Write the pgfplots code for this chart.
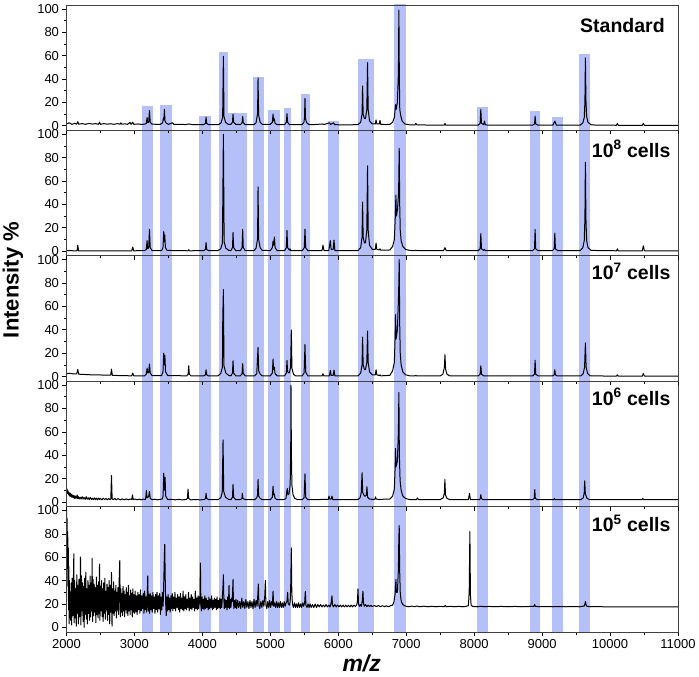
\documentclass[border=0pt]{standalone}
\usepackage{fontspec}
\setmainfont{Liberation Sans}
\usepackage{pgfplots}
\pgfplotsset{compat=1.18}
\definecolor{band}{RGB}{181,192,248}
\pgfplotsset{
 panel/.style={
   scale only axis, width=611.5pt, height=125.4pt,
   xmin=2000, xmax=11000, ymin=-4, ymax=103.3,
   xtick={2000,3000,...,11000}, minor x tick num=1,
   ytick={0,20,...,100}, minor y tick num=1,
   scaled x ticks=false, scaled y ticks=false,
   tick align=outside, tick pos=left,
   major tick length=4pt, minor tick length=2.5pt,
   every tick/.style={black, line width=0.6pt},
   axis line style={line width=0.8pt, black!75},
   /pgf/number format/assume math mode=true,
   /pgf/number format/1000 sep={},
   tick label style={font=\fontsize{13}{15}\selectfont},
   axis on top,
   anchor=north west,
 },
 bandst/.style={draw=none, fill=band, forget plot},
 spec/.style={black, line width=1pt, line join=round, forget plot},
}
\newcommand{\fullbands}{%
\addplot[bandst] coordinates {(3115,-10)(3115,110)(3279,110)(3279,-10)};
\addplot[bandst] coordinates {(3378,-10)(3378,110)(3548,110)(3548,-10)};
\addplot[bandst] coordinates {(3955,-10)(3955,110)(4125,110)(4125,-10)};
\addplot[bandst] coordinates {(4243,-10)(4243,110)(4657,110)(4657,-10)};
\addplot[bandst] coordinates {(4749,-10)(4749,110)(4913,110)(4913,-10)};
\addplot[bandst] coordinates {(4972,-10)(4972,110)(5142,110)(5142,-10)};
\addplot[bandst] coordinates {(5203,-10)(5203,110)(5311,110)(5311,-10)};
\addplot[bandst] coordinates {(5444,-10)(5444,110)(5588,110)(5588,-10)};
\addplot[bandst] coordinates {(5844,-10)(5844,110)(6008,110)(6008,-10)};
\addplot[bandst] coordinates {(6290,-10)(6290,110)(6524,110)(6524,-10)};
\addplot[bandst] coordinates {(6822,-10)(6822,110)(6991,110)(6991,-10)};
\addplot[bandst] coordinates {(8038,-10)(8038,110)(8207,110)(8207,-10)};
\addplot[bandst] coordinates {(8823,-10)(8823,110)(8972,110)(8972,-10)};
\addplot[bandst] coordinates {(9145,-10)(9145,110)(9313,110)(9313,-10)};
\addplot[bandst] coordinates {(9544,-10)(9544,110)(9712,110)(9712,-10)};
}
\newcommand{\plabel}[3]{\node[anchor=base east, font=\bfseries\fontsize{19.5}{22}\selectfont] at (rel axis cs:#1,#2) {#3};}
\begin{document}
\begin{tikzpicture}
\useasboundingbox (-66.5pt,5pt) rectangle (632.5pt,-672pt);
% ---------- panel 5 : 10^5 cells
\begin{axis}[panel, at={(0pt,-501.6pt)}]
\fullbands
\addplot[spec] coordinates {
(2000,95)(2003,100)(2006,70)(2010,93)(2014,50)(2018,82)(2022,35)(2026,68)(2030,15)(2034,52)(2038,3)(2042,40)(2046,8)
(2052,30)(2060,6)(2068,38)(2076,2)(2084,42)(2092,10)(2100,35)(2108,63)(2112,4)(2120,40)(2128,8)(2136,33)(2144,1)(2152,45)
(2160,12)(2168,36)(2176,3)(2184,41)(2192,9)(2200,30)(2206,60)(2212,2)(2220,44)(2228,14)(2236,38)(2244,5)(2252,35)(2260,0)
(2268,42)(2276,11)(2284,47)(2292,7)(2300,33)(2308,3)(2316,40)(2324,12)(2332,36)(2340,6)(2348,44)(2356,9)(2364,38)(2372,14)
(2377,59)(2384,5)(2392,41)(2400,10)(2408,37)(2416,13)(2424,34)(2432,4)(2440,43)(2448,11)(2456,36)(2464,8)(2472,39)(2480,12)
(2486,54)(2492,6)(2500,35)(2508,14)(2516,40)(2524,9)(2532,33)(2540,5)(2548,38)(2556,12)(2564,42)(2572,7)(2580,31)(2588,15)
(2596,37)(2604,6)(2612,34)(2620,11)(2628,40)(2636,3)(2644,36)(2652,13)(2662,47)(2670,1)(2678,33)(2686,12)(2694,39)(2702,10)
(2710,31)(2718,14)(2726,36)(2734,8)(2742,30)(2750,15)(2758,34)(2766,11)(2774,38)(2784,57)(2792,9)(2800,33)(2808,13)(2816,29)
(2824,10)(2832,35)(2840,14)(2848,31)(2856,9)(2864,28)(2872,15)(2880,34)(2888,12)(2896,30)(2904,10)(2912,36)(2920,14)(2928,27)
(2936,11)(2944,32)(2952,15)(2960,29)(2968,9)(2976,33)(2984,13)(2992,28)(3000,12)
(3010,31)(3020,13)(3030,27)(3040,11)(3050,30)(3060,15)(3070,28)(3080,12)(3090,32)(3100,14)(3110,27)(3120,16)(3130,29)(3140,12)
(3150,31)(3160,15)(3170,26)(3180,13)(3190,30)(3196,44)(3204,14)(3212,28)(3222,12)(3232,29)(3242,15)(3252,27)(3262,13)(3272,30)
(3282,16)(3292,26)(3302,12)(3312,28)(3322,15)(3332,30)(3342,13)(3352,27)(3362,16)(3372,29)(3382,11)(3392,26)(3402,15)(3412,30)
(3422,18)(3432,40)(3440,60)(3446,71)(3452,45)(3460,20)(3468,10)(3476,26)(3486,14)(3496,28)(3506,15)(3516,25)(3526,13)(3536,27)
(3546,16)(3556,29)(3566,14)(3576,26)(3586,16)(3596,30)(3606,14)(3616,25)(3626,17)(3636,28)(3646,15)(3656,26)(3666,13)(3676,29)
(3686,16)(3696,25)(3706,15)(3716,31)(3726,14)(3736,26)(3746,16)(3756,28)(3766,15)(3776,24)(3786,17)(3796,30)(3806,14)(3816,25)
(3826,16)(3836,28)(3846,15)(3856,26)(3866,17)(3876,24)(3886,14)(3896,31)(3906,16)(3916,25)(3926,15)(3936,27)(3946,16)(3956,26)
(3964,20)(3971,55)(3978,18)(3986,14)(3996,26)(4006,16)(4016,24)(4026,15)(4036,27)(4046,16)(4056,25)(4066,17)(4076,23)(4086,15)
(4096,26)(4106,16)(4116,24)(4126,17)(4136,27)(4146,15)(4156,23)(4166,16)(4176,25)(4186,17)(4196,24)(4206,15)(4216,26)(4226,16)
(4236,23)(4246,17)(4256,25)(4266,16)(4276,24)(4286,17)(4296,28)(4303,35)(4309,45)(4315,26)(4322,16)(4332,24)(4342,17)(4352,23)
(4362,15)(4372,26)(4382,17)(4392,36)(4400,16)(4410,24)(4420,17)(4430,25)(4440,22)(4446,33)(4451,41)(4456,24)(4464,16)(4474,23)
(4484,17)(4494,24)
(4505,16)(4520,23)(4535,17)(4550,22)(4565,16)(4580,25)(4595,17)(4610,22)(4625,16)(4640,24)(4655,17)(4670,22)(4685,16)(4700,23)
(4715,17)(4730,22)(4745,16)(4760,24)(4775,17)(4790,23)(4805,18)(4815,27)(4824,37)(4832,19)(4845,16)(4860,22)(4875,17)(4890,23)
(4905,18)(4918,27)(4927,40)(4935,19)(4948,16)(4962,22)(4976,17)(4990,23)(5004,17)(5018,22)(5030,19)(5040,31)(5050,18)(5064,21)
(5078,17)(5092,22)(5106,17)(5120,21)(5134,17)(5148,22)(5162,17)(5176,21)(5190,17)(5204,22)(5218,18)(5232,21)(5244,22)(5255,30)
(5264,20)(5280,19)(5292,22)(5300,35)(5309,68)(5316,30)(5325,20)(5340,17)(5355,21)(5370,17)(5385,20)(5400,17)(5415,21)(5430,17)
(5445,20)(5460,17)(5475,21)(5490,18)(5505,21)(5515,30.7)(5524,19)(5540,17)(5555,20)(5570,17)(5585,20)(5600,17)(5620,19.5)
(5640,17)(5660,20)(5680,17)(5700,19.5)(5720,17.5)(5740,19.5)(5760,17.5)(5780,19)(5800,17.5)(5820,19.5)(5840,17.5)(5860,19)
(5880,17.5)(5895,21)(5907,27)(5915,19)(5930,17.5)(5950,19.5)(5970,17.5)(5990,19)(6010,17.5)(6030,19)(6050,17.5)(6070,19)
(6090,17.5)(6110,19)(6130,17.5)(6150,18.8)(6170,17.5)(6190,19)(6210,17.5)(6230,19)(6250,17.8)(6270,19)(6282,22)(6290,33)
(6298,20)(6310,18)(6325,19.5)(6340,18)(6352,22)(6363,31)(6372,20)(6385,18)(6400,19.5)(6420,17.8)(6440,19)(6460,17.8)(6480,18.8)
(6500,17.8)(6530,18.6)(6560,17.8)(6590,18.6)(6620,17.7)(6650,18.5)(6680,17.7)(6710,18.4)(6740,17.7)(6770,18.5)(6800,19)
(6820,22)(6835,28)(6842,35)(6848,41)(6855,30)(6870,30)(6885,50)(6891,75)(6897,87)(6903,50)(6912,30)(6922,24)(6935,21)(6950,19.5)
(6975,18.5)(7000,18)(7040,17.6)(7080,18.2)(7120,17.6)(7160,18.2)(7200,17.6)(7260,18.1)(7320,17.6)(7380,18)(7440,17.6)(7500,18)
(7560,17.6)(7575,18.8)(7590,17.6)(7650,18)(7710,17.6)(7770,18)(7830,17.6)(7880,17.9)(7915,18.5)(7927,30)(7937,82)(7945,28)
(7955,19)(7980,17.8)(8040,17.6)(8100,18)(8160,17.6)(8220,17.9)(8300,17.6)(8400,17.9)(8500,17.6)(8600,17.9)(8700,17.6)(8800,17.8)
(8880,18)(8890,19.5)(8900,18)(8960,17.6)(9050,17.8)(9150,17.6)(9250,17.8)(9350,17.6)(9450,17.7)(9550,17.6)(9620,18.2)(9630,20)
(9637,22)(9645,19.5)(9660,18)(9700,17.6)(9800,17.7)(9900,17.6)(10100,17.6)(10300,17.6)(10500,17.6)(11000,17.6)
};
\plabel{0.9935}{0.80}{10\textsuperscript{5} cells}
\end{axis}
% ---------- panel 4 : 10^6 cells
\begin{axis}[panel, at={(0pt,-376.2pt)}, xticklabels={}]
\fullbands
\addplot[spec] coordinates {
(2000,9)(2008,11)(2016,7)(2024,9.5)(2032,6)(2040,8)(2048,5)(2056,7.5)(2064,4.5)(2072,6.5)(2080,4)(2090,6)(2100,3.5)(2110,5.5)
(2120,3)(2130,5)(2140,3)(2150,4.5)(2157,6)(2165,3)(2175,4.5)(2185,2.5)(2200,4)(2215,2.5)(2230,4.5)(2245,2.5)(2260,3.8)(2275,2.2)
(2290,4.5)(2305,2.3)(2320,3.5)(2335,2)(2350,3.8)(2365,2.2)(2380,3.2)(2395,2)(2410,3.5)(2425,2)(2440,3.2)(2455,1.8)(2470,3.3)
(2485,2)(2500,3)(2520,1.8)(2540,3.2)(2560,2)(2580,3)(2600,1.8)(2620,3)(2640,2)(2652,2.5)(2662,22.6)(2672,2.5)(2690,2)(2710,3)
(2730,1.8)(2760,2.8)(2790,1.8)(2820,2.6)(2850,1.8)(2880,2.6)(2910,1.8)(2940,2.5)(2960,2)(2971,6)(2982,2)(3010,2.5)(3040,1.8)
(3070,2.4)(3100,1.8)(3130,2.4)(3160,2)(3168,4)(3176,9.7)(3185,3.5)(3200,4)(3210,5)(3221,8.9)(3232,3)(3260,2)(3300,2.3)(3340,1.8)
(3380,2.2)(3410,2.5)(3422,5)(3431,24.6)(3440,10)(3451,21)(3460,5)(3490,2)(3550,2.2)(3600,1.8)(3650,2.2)(3700,1.8)(3760,2)
(3780,3)(3789,10.9)(3798,3)(3830,1.8)(3900,2)(3970,1.8)(4030,2)(4046,3)(4054,7.4)(4062,3)(4090,2)
(4230,2)(4270,3.5)(4292,8)(4304,53)(4314,9)(4340,4)(4390,2)(4420,2)(4443,4)(4451,15)(4460,4)(4490,2)
(4560,2)(4582,3)(4588,7.4)(4596,3)(4630,2)(4770,2)(4800,3.5)(4812,6)(4819,19.2)(4828,5)(4850,3)(4880,2)
(5000,2)(5030,4)(5040,13.5)(5048,6)(5058,7)(5070,3)(5100,2)
(5200,2)(5230,3)(5242,9)(5250,11.5)(5258,6)(5275,7)(5292,15)(5300,45)(5304,100)(5310,40)(5318,14)(5335,6)(5360,3)(5400,2)
(5470,2)(5497,3.5)(5510,24)(5520,4)(5550,2)(5700,2)(5800,2.2)(5850,2)(5863,5)(5875,2.5)(5895,2.3)(5907,5)(5920,2)(6100,2)
(6290,2)(6320,3.5)(6338,8)(6350,25)(6360,8)(6385,5)(6400,5)(6413,6)(6422,13)(6431,4)(6460,2.5)(6520,2)(6540,2.5)(6548,4.3)
(6558,2.5)(6600,2)(6700,2.5)
(6760,2.5)(6800,5)(6825,11)(6837,30)(6843,45.8)(6850,30)(6870,35)(6885,60)(6892,93.7)(6899,40)(6910,18)(6925,10)(6950,5)
(6990,3)(7050,2)(7150,2)(7166,3.4)(7180,2)(7500,2)(7545,3.5)(7562,8)(7569,19.2)(7578,6)(7600,3)(7640,2)
(7915,2)(7931,7.2)(7945,2)(8080,2)(8090,3)(8098,6.3)(8106,3)(8130,2)(8860,2)(8884,3)(8892,10.6)(8900,3)(8930,2)
(9170,2)(9181,3)(9192,2)(9570,2)(9605,3.5)(9620,8)(9627,18)(9636,7)(9660,3)(9700,2)(10470,2)(10481,3)(10492,2)(11000,2)
};
\plabel{0.9935}{0.81}{10\textsuperscript{6} cells}
\end{axis}
% ---------- panel 3 : 10^7 cells
\begin{axis}[panel, at={(0pt,-250.8pt)}, xticklabels={}]
\fullbands
\addplot[spec] coordinates {
(2000,2.5)(2050,2.8)(2100,2.2)(2150,2.3)(2166,6)(2180,2)(2250,1.8)(2350,1.5)(2450,1.5)(2550,1.2)(2650,1.1)(2662,6.3)(2675,1)
(2800,0.8)(2960,0.6)(2975,3)(2990,0.6)(3150,0.6)(3175,2)(3186,7.2)(3195,3)(3210,3.5)(3221,10.7)(3232,3)(3260,0.8)
(3400,0.8)(3420,4)(3431,20)(3438,10)(3448,18)(3458,4)(3490,0.8)(3770,0.6)(3790,2)(3799,9.2)(3808,2)(3830,0.6)
(4020,0.5)(4045,1.5)(4054,5.8)(4063,1.5)(4090,0.5)(4230,0.6)(4270,2.5)(4295,8)(4300,50)(4309,74.4)(4318,9)(4345,3)(4390,0.8)
(4420,0.6)(4443,3)(4451,13.5)(4460,3)(4490,0.6)(4560,0.6)(4584,2.5)(4593,11)(4602,2.5)(4630,0.6)
(4770,0.6)(4800,2.5)(4819,25)(4828,5)(4850,2)(4880,0.6)(5000,0.6)(5030,3)(5040,15)(5048,6)(5058,8)(5070,2.5)(5100,0.6)
(5210,0.6)(5236,3)(5245,13.8)(5254,4)(5280,3)(5298,8)(5309,39.8)(5318,7)(5340,2)(5370,0.6)
(5470,0.6)(5497,3)(5510,27.4)(5520,4)(5550,0.6)(5760,0.5)(5775,2.3)(5790,0.5)(5870,0.6)(5883,5.2)(5895,1)(5925,1)(5937,5.5)
(5950,0.5)(6100,0.5)(6290,0.5)(6330,3)(6350,10)(6358,33.7)(6366,10)(6385,6)(6400,6)(6420,12)(6431,38.9)(6440,12)(6460,4)
(6500,1.5)(6545,1.5)(6556,5.8)(6567,1.5)(6604,0.8)(6614,1.5)(6625,0.6)(6700,0.8)
(6760,1)(6800,5)(6825,12)(6837,35)(6843,53)(6850,32)(6870,40)(6888,70)(6897,100)(6904,45)(6912,20)(6925,10)(6950,4)(6990,1.5)
(7050,0.6)(7130,0.5)(7142,1)(7155,0.5)(7500,0.5)(7540,2)(7562,8)(7570,18.7)(7580,6)(7600,2)(7640,0.5)
(8060,0.5)(8088,2)(8098,9.2)(8108,2)(8140,0.5)(8860,0.5)(8888,2)(8897,14)(8906,2)(8940,0.5)
(9155,0.5)(9178,1.5)(9187,5.8)(9196,1.5)(9220,0.5)(9570,0.5)(9605,2.5)(9625,8)(9637,28.8)(9648,8)(9670,2.5)(9710,0.5)
(10095,0.4)(10108,1.5)(10120,0.4)(10475,0.4)(10490,2.6)(10505,0.4)(11000,0.4)
};
\plabel{0.9935}{0.81}{10\textsuperscript{7} cells}
\end{axis}
% ---------- panel 2 : 10^8 cells
\begin{axis}[panel, at={(0pt,-125.4pt)}, xticklabels={}]
\fullbands
\addplot[spec] coordinates {
(2000,0.5)(2100,0.3)(2155,0.3)(2166,5)(2177,0.3)(2300,0.3)(2500,0.3)(2700,0.3)(2960,0.3)(2975,3.4)(2990,0.3)
(3150,0.4)(3175,1.5)(3186,9)(3195,2)(3210,3)(3221,18.6)(3232,3)(3260,0.5)
(3400,0.5)(3420,3)(3431,16.6)(3438,8)(3446,14)(3456,3)(3480,0.6)(3790,0.3)(3800,1.2)(3810,0.3)
(4020,0.4)(4045,1.5)(4054,7.4)(4063,1.5)(4090,0.4)(4230,0.5)(4270,2)(4295,7)(4309,100)(4320,8)(4345,2.5)(4390,0.6)
(4420,0.5)(4443,3)(4451,16)(4460,3)(4490,0.5)(4560,0.5)(4584,3)(4593,18.6)(4602,3)(4630,0.5)
(4760,0.5)(4790,2.5)(4808,9)(4812,11)(4819,55)(4828,10)(4850,3)(4880,0.6)
(5000,0.5)(5030,3)(5040,8.6)(5048,5)(5060,12)(5070,3)(5100,0.5)(5210,0.4)(5236,3)(5245,17.7)(5254,3)(5280,0.8)(5290,2)(5300,0.5)
(5470,0.5)(5500,3)(5510,18.9)(5520,3)(5550,0.5)(5760,0.4)(5775,5)(5790,0.4)(5860,0.5)(5883,9)(5895,1.5)(5925,1.5)(5937,9.4)
(5950,0.5)(6100,0.4)(6290,0.5)(6330,3)(6350,12)(6358,42)(6366,12)(6385,7)(6400,7)(6420,18)(6431,72.9)(6440,18)(6460,5)
(6500,1.5)(6545,1.5)(6556,6.9)(6567,1.5)(6604,1)(6614,2)(6625,0.8)(6700,0.8)
(6760,1)(6800,4)(6825,10)(6840,30)(6848,48)(6856,30)(6872,36)(6888,50)(6897,88)(6904,40)(6912,18)(6925,9)(6950,4)(6990,1.5)
(7050,0.6)(7130,0.4)(7142,1)(7155,0.4)(7550,0.4)(7570,3)(7590,0.4)
(8060,0.4)(8088,2)(8098,15)(8108,2)(8140,0.6)(8152,1.5)(8165,0.4)(8860,0.4)(8888,2)(8897,18.6)(8906,2)(8940,0.4)
(9150,0.4)(9178,2)(9187,15.4)(9196,2)(9230,0.4)(9560,0.4)(9600,3)(9620,9)(9630,28)(9637,76)(9645,28)(9655,9)(9675,3)(9720,0.6)
(10095,0.3)(10108,2)(10120,0.3)(10475,0.3)(10490,4.6)(10505,0.3)(11000,0.3)
};
\plabel{0.9935}{0.785}{10\textsuperscript{8} cells}
\end{axis}
% ---------- panel 1 : Standard
\begin{axis}[panel, at={(0pt,0pt)}, xticklabels={}]
\addplot[bandst] coordinates {(3115,-10)(3115,16.9)(3279,16.9)(3279,-10)};
\addplot[bandst] coordinates {(3378,-10)(3378,18)(3548,18)(3548,-10)};
\addplot[bandst] coordinates {(3955,-10)(3955,8.6)(4125,8.6)(4125,-10)};
\addplot[bandst] coordinates {(4243,-10)(4243,63)(4378,63)(4378,-10)};
\addplot[bandst] coordinates {(4378,-10)(4378,10.9)(4657,10.9)(4657,-10)};
\addplot[bandst] coordinates {(4749,-10)(4749,41.7)(4913,41.7)(4913,-10)};
\addplot[bandst] coordinates {(4972,-10)(4972,13.4)(5142,13.4)(5142,-10)};
\addplot[bandst] coordinates {(5203,-10)(5203,15.1)(5311,15.1)(5311,-10)};
\addplot[bandst] coordinates {(5444,-10)(5444,27.1)(5588,27.1)(5588,-10)};
\addplot[bandst] coordinates {(5844,-10)(5844,4.3)(6008,4.3)(6008,-10)};
\addplot[bandst] coordinates {(6290,-10)(6290,56.7)(6524,56.7)(6524,-10)};
\addplot[bandst] coordinates {(6822,-10)(6822,110)(6991,110)(6991,-10)};
\addplot[bandst] coordinates {(8038,-10)(8038,16)(8207,16)(8207,-10)};
\addplot[bandst] coordinates {(8823,-10)(8823,12.5)(8972,12.5)(8972,-10)};
\addplot[bandst] coordinates {(9145,-10)(9145,7.7)(9313,7.7)(9313,-10)};
\addplot[bandst] coordinates {(9544,-10)(9544,61.5)(9712,61.5)(9712,-10)};
\addplot[spec] coordinates {
(2000,1.5)(2040,2.5)(2080,1.2)(2120,2)(2150,1.3)(2166,3.5)(2180,1.3)(2230,1.8)(2280,1.2)(2330,2)(2380,1.4)(2430,1.8)(2470,1.2)
(2485,3)(2500,1.2)(2550,1.8)(2600,1.3)(2650,1.7)(2700,1.2)(2750,1.8)(2790,1.3)(2800,2.5)(2815,1.3)(2860,1.6)(2900,1.2)
(2935,2.8)(2950,1.2)(2975,3)(2990,1.2)(3050,1.5)(3100,1.2)
(3150,1.3)(3175,2)(3186,7)(3195,2.5)(3210,3)(3221,13)(3232,3)(3260,1.3)
(3380,1.2)(3415,2.5)(3428,7)(3435,5)(3441,14)(3450,4)(3470,2)(3500,1.2)(3560,2.5)(3580,1.2)
(3650,1.2)(3750,1)(3800,1.5)(3850,1)(3950,1)(4020,1)(4045,2)(4054,7.4)(4063,2)(4090,1)
(4240,1)(4275,2.5)(4298,7)(4309,59.4)(4318,8)(4340,3)(4380,1.2)(4420,1.2)(4443,3)(4451,10)(4460,3)(4490,1.2)
(4560,1)(4585,2.5)(4593,8)(4602,2.5)(4630,1)(4760,1)(4790,2.5)(4808,9)(4812,10)(4819,41)(4828,9)(4850,3)(4880,1.2)
(5000,1.2)(5030,3)(5040,10)(5048,4)(5058,6)(5070,2)(5100,1)(5210,1)(5236,3)(5245,10.3)(5254,3)(5280,1)
(5470,1)(5495,3)(5503,7)(5510,23.4)(5518,6)(5535,2.5)(5570,1)(5650,1)(5775,1.5)(5790,1)(5870,2.5)(5885,1)(5930,2.5)(5945,1)
(6000,0.8)(6100,0.8)(6200,0.8)
(6290,1)(6330,3)(6350,10)(6358,34)(6366,10)(6385,6)(6400,6)(6420,14)(6431,54)(6440,14)(6460,4)(6500,1.5)(6545,1.5)(6556,5)
(6567,1.5)(6604,1.5)(6614,4.5)(6625,1.2)(6700,1)
(6760,1.2)(6800,3)(6825,7)(6843,18)(6852,14)(6870,20)(6885,45)(6892,99)(6899,40)(6905,14)(6918,9)(6940,4)(6980,1.5)(7050,0.8)
(7130,0.8)(7142,2)(7155,0.8)(7300,0.6)(7560,0.6)(7570,2)(7580,0.6)(7800,0.5)(8000,0.5)
(8060,0.5)(8088,2)(8098,14)(8108,2)(8140,1)(8152,4)(8165,0.8)(8200,0.5)(8860,0.5)(8888,1.5)(8897,8.3)(8906,1.5)(8940,0.5)
(9160,0.5)(9187,4)(9210,0.5)(9560,0.5)(9600,2.5)(9620,7)(9630,20)(9637,58)(9645,22)(9655,8)(9675,3)(9720,0.8)(9800,0.5)
(10095,0.4)(10108,2)(10120,0.4)(10475,0.4)(10490,2)(10505,0.4)(10700,0.3)(11000,0.3)
};
\plabel{0.984}{0.777}{Standard}
\end{axis}
\node[rotate=90, font=\bfseries\fontsize{22}{26}\selectfont] at (-53.5pt,-275pt) {Intensity \%};
\node[anchor=base, font=\bfseries\itshape\fontsize{23}{26}\selectfont] at (295.2pt,-666pt) {m/z};
\end{tikzpicture}
\end{document}
